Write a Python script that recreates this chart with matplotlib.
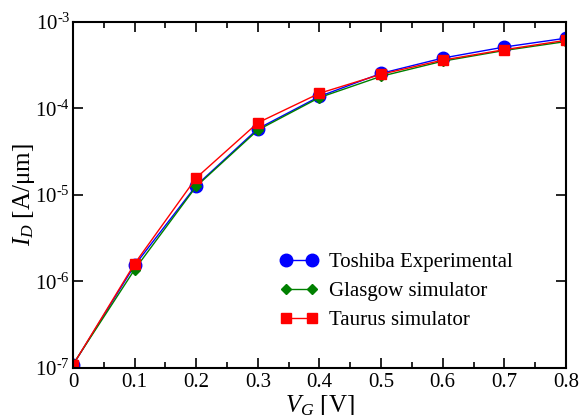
import numpy as np
import matplotlib
matplotlib.use("Agg")
import matplotlib.pyplot as plt
from matplotlib.ticker import LogLocator, MultipleLocator, FuncFormatter, NullLocator

plt.rcParams["font.family"] = "Liberation Serif"
plt.rcParams["mathtext.fontset"] = "custom"
plt.rcParams["mathtext.rm"] = "Liberation Serif"
plt.rcParams["mathtext.it"] = "Liberation Serif:italic"

vg = [0.0, 0.1, 0.2, 0.3, 0.4, 0.5, 0.6, 0.7, 0.8]
toshiba = [1.08e-7, 1.53e-6, 1.28e-5, 5.8e-5, 1.37e-4, 2.53e-4, 3.8e-4, 5.1e-4, 6.45e-4]
glasgow = [1.1e-7, 1.37e-6, 1.25e-5, 5.6e-5, 1.33e-4, 2.34e-4, 3.5e-4, 4.65e-4, 5.9e-4]
taurus = [1.08e-7, 1.6e-6, 1.57e-5, 6.8e-5, 1.49e-4, 2.47e-4, 3.6e-4, 4.75e-4, 6.1e-4]

fig = plt.figure(figsize=(5.79, 4.15), dpi=100)
ax = fig.add_axes([0.126, 0.1133, 0.8515, 0.8344])

ax.plot(vg, toshiba, color="blue", marker="o", markersize=9, lw=1,
        label="Toshiba Experimental")
ax.plot(vg, glasgow, color="green", marker="D", markersize=5.5, lw=1,
        label="Glasgow simulator")
ax.plot(vg, taurus, color="red", marker="s", markersize=7.5, lw=1,
        label="Taurus simulator")

ax.set_yscale("log")
ax.set_xlim(0, 0.8)
ax.set_ylim(1e-7, 1e-3)

ax.xaxis.set_major_locator(MultipleLocator(0.1))
ax.xaxis.set_minor_locator(MultipleLocator(0.05))
ax.xaxis.set_major_formatter(FuncFormatter(lambda v, p: "0" if abs(v) < 1e-9 else f"{v:.1f}"))
ax.yaxis.set_major_locator(LogLocator(base=10, numticks=10))
ax.yaxis.set_minor_locator(NullLocator())
ax.yaxis.set_major_formatter(FuncFormatter(lambda v, p: r"$10^{\text{-}%d}$" % abs(round(np.log10(v)))))

ax.tick_params(which="both", direction="in", top=True, right=True, labelsize=15, width=1.2)
ax.tick_params(which="major", length=7)
ax.tick_params(which="minor", length=4)
ax.tick_params(axis="y", pad=2)
for s in ax.spines.values():
    s.set_linewidth(1.5)

ax.set_xlabel(r"$V_G$ [V]", fontsize=18, labelpad=1)
ax.set_ylabel(r"$I_D$ [A/μm]", fontsize=18, labelpad=-1)

ax.legend(loc="center left", bbox_to_anchor=(0.42, 0.222), frameon=False, fontsize=15,
          numpoints=2, handlelength=1.85, handletextpad=0.5, labelspacing=0.45,
          borderpad=0, borderaxespad=0)

fig.savefig("out.png", dpi=100)
